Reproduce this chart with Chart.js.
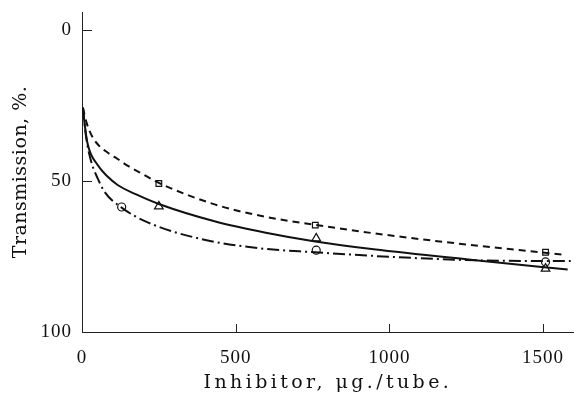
<!DOCTYPE html>
<html>
<head>
<meta charset="utf-8">
<script src="https://cdn.jsdelivr.net/npm/chart.js@4"></script>
<style>
  html, body { margin: 0; padding: 0; background: #fff; }
</style>
</head>
<body>
<canvas id="chart" width="580" height="399"></canvas>
<script>
// curves: [inhibitor µg/tube, transmission %]
const dashedCurve = [[3, 25.7], [14, 30.4], [30, 34.6], [51, 37.8], [84, 40.6], [116, 42.7], [148, 44.9], [191, 47.3], [250, 50.6], [434, 57.8], [595, 61.8], [759, 64.5], [949, 67.3], [1302, 71.6], [1495, 73.6], [1570, 74.4]];
const solidCurve = [[3, 25.7], [9, 31.5], [19, 38], [51, 44.7], [84, 48.6], [116, 51.3], [180, 54.6], [250, 57.6], [434, 63.4], [598, 67.1], [759, 70], [949, 72.6], [1280, 76.2], [1580, 79.3]];
const dashDotCurve = [[3, 25.7], [14, 35.9], [30, 43.6], [51, 49.1], [73, 53.5], [129, 58.8], [212, 63.6], [379, 69], [572, 72.2], [759, 73.6], [1022, 75.2], [1302, 76.3], [1590, 76.5]];

// measured points
const squarePts = [[250, 50.8], [759, 64.6], [1508, 73.6]];
const trianglePts = [[250, 58.4], [762, 69.0], [1508, 79.0]];
const circlePts = [[129, 58.6], [762, 72.9], [1508, 76.8]];

const xTicks = [0, 500, 1000, 1500];
const yTicks = [0, 50, 100];

const toXY = arr => arr.map(p => ({ x: p[0], y: p[1] }));
const tickFont = { family: 'Liberation Serif', size: 19 };
const titleFont = { family: 'DejaVu Serif', size: 19 };

function curve(pts, dash) {
    return {
        type: 'line',
        data: toXY(pts),
        borderColor: '#111',
        borderWidth: 2,
        borderDash: dash,
        pointRadius: 0,
        cubicInterpolationMode: 'monotone',
        fill: false
    };
}

function markers(pts, style, r) {
    return {
        type: 'scatter',
        data: toXY(pts),
        pointStyle: style,
        pointRadius: r,
        pointBackgroundColor: '#fff',
        pointBorderColor: '#111',
        pointBorderWidth: 1.2,
        showLine: false
    };
}

const centreDots = {
    type: 'scatter',
    data: toXY(squarePts.concat(trianglePts, circlePts)),
    pointRadius: 1,
    pointBackgroundColor: '#111',
    pointBorderWidth: 0
};

// letter spacing for the axis titles, like the old typesetting
function spacedTitle(px) {
    return s => {
        if (s._spaced) return;
        const orig = s.drawTitle;
        s.drawTitle = function () {
            const c = this.ctx;
            const prev = c.letterSpacing;
            c.letterSpacing = px;
            orig.apply(this, arguments);
            c.letterSpacing = prev;
        };
        s._spaced = true;
    };
}

const textSpacing = {
    id: 'textSpacing',
    beforeDraw(chart) { chart.ctx.letterSpacing = '1px'; }
};

// small ticks pointing into the plot
const innerTicks = {
    id: 'innerTicks',
    afterDraw(chart) {
        const c = chart.ctx;
        const xs = chart.scales.x, ys = chart.scales.y;
        c.save();
        c.strokeStyle = '#222';
        c.lineWidth = 1;
        c.beginPath();
        yTicks.forEach(v => {
            if (v === 100) return;
            const y = Math.round(ys.getPixelForValue(v)) + 0.5;
            c.moveTo(xs.left, y);
            c.lineTo(xs.left + 10, y);
        });
        xTicks.forEach(v => {
            if (v === 0) return;
            const x = Math.round(xs.getPixelForValue(v)) + 0.5;
            c.moveTo(x, ys.bottom);
            c.lineTo(x, ys.bottom - 8);
        });
        c.stroke();
        c.restore();
    }
};

new Chart(document.getElementById('chart'), {
    data: {
        datasets: [
            curve(dashedCurve, [7, 5]),
            curve(solidCurve, []),
            curve(dashDotCurve, [12, 4, 2, 4]),
            markers(squarePts, 'rect', 4),
            markers(trianglePts, 'triangle', 5),
            markers(circlePts, 'circle', 4),
            centreDots
        ]
    },
    options: {
        responsive: false,
        animation: false,
        layout: { padding: { top: 12, right: 0, left: 0, bottom: 0 } },
        plugins: { legend: { display: false }, tooltip: { enabled: false } },
        scales: {
            x: {
                type: 'linear',
                min: 0,
                max: 1600,
                afterBuildTicks: s => { s.ticks = xTicks.map(v => ({ value: v })); },
                afterFit: s => { s.height = 67; s.paddingLeft = 0; s.paddingRight = 0; },
                afterUpdate: spacedTitle('3.4px'),
                grid: { display: false, drawTicks: false },
                border: { display: true, color: '#222', width: 1 },
                ticks: { color: '#111', font: tickFont, padding: 15, maxRotation: 0, autoSkip: false, callback: v => String(v) },
                title: {
                    display: true,
                    text: 'Inhibitor, μg./tube.',
                    color: '#111',
                    font: titleFont,
                    padding: { top: 0, bottom: 5 }
                }
            },
            y: {
                type: 'linear',
                reverse: true,
                min: -6,
                max: 100,
                afterBuildTicks: s => { s.ticks = yTicks.map(v => ({ value: v })); },
                afterFit: s => { s.width = 82; s.paddingTop = 0; s.paddingBottom = 0; },
                afterUpdate: spacedTitle('0.5px'),
                grid: { display: false, drawTicks: false },
                border: { display: true, color: '#222', width: 1 },
                ticks: { color: '#111', font: tickFont, padding: 10, callback: v => String(v) },
                title: {
                    display: true,
                    text: 'Transmission, %.',
                    color: '#111',
                    font: titleFont,
                    padding: { top: 10, bottom: 0 }
                }
            }
        }
    },
    plugins: [textSpacing, innerTicks]
});
</script>
</body>
</html>
